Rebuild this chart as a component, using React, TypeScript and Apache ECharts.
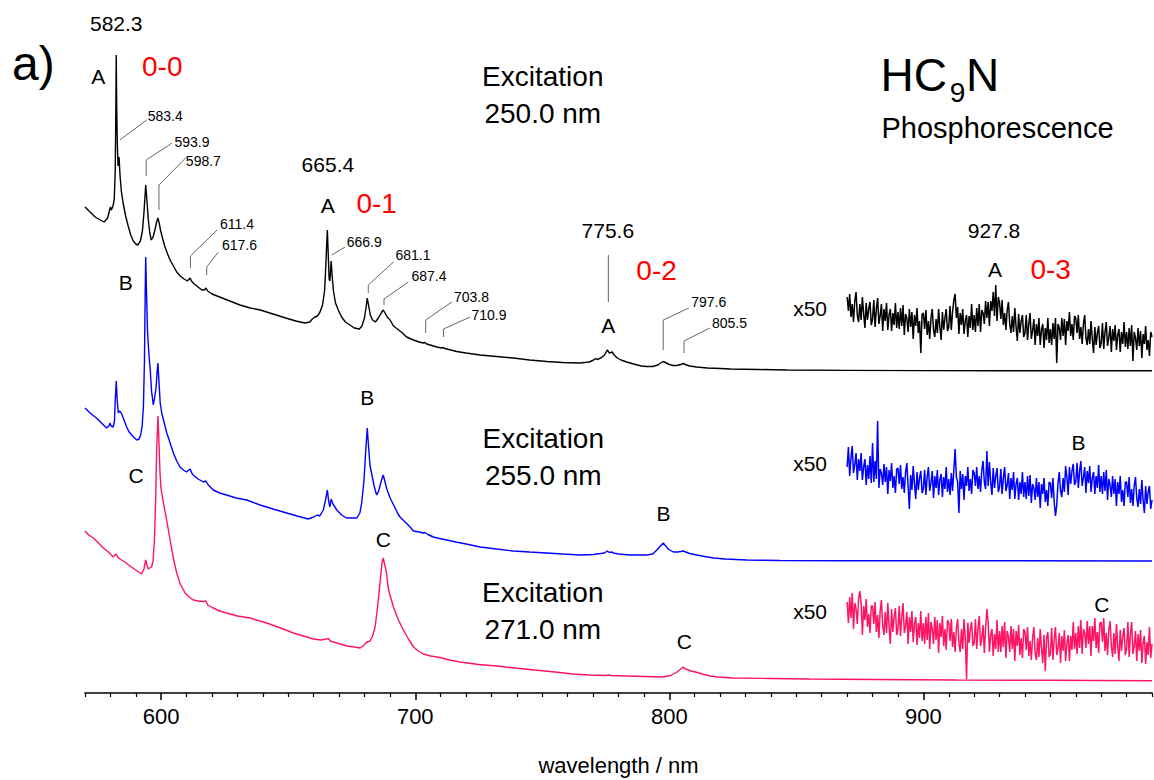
import React, { useEffect, useRef } from "react";
import * as echarts from "echarts";

const FONT = "'Liberation Sans', Arial, Helvetica, sans-serif";

// ---- axis ----
const X_MIN = 570;
const X_MAX = 990;
const MAJOR_TICKS = [600, 700, 800, 900];
const MINOR_TICKS = [570, 580, 590, 610, 620, 630, 640, 650, 660, 670, 680, 690, 710, 720, 730, 740, 750, 760, 770, 780, 790, 810, 820, 830, 840, 850, 860, 870, 880, 890, 910, 920, 930, 940, 950, 960, 970, 980, 990];

// ---- vertical offsets of the stacked spectra (arb. units) ----
const OFFSET_250 = 322;
const OFFSET_255 = 132;
const OFFSET_271 = 12;

// ---- spectrum, excitation 250.0 nm: [wavelength nm, intensity] ----
const EXC_250 = [
  [570.0, 164], [572.0, 159], [574.0, 154], [576.0, 151], [577.5, 149], [578.9, 153], [579.6, 160], [580.0, 164], [580.4, 161], [581.0, 165],
  [581.5, 171], [581.9, 200], [582.1, 250], [582.3, 316], [582.5, 260], [582.7, 230], [583.0, 205], [583.4, 214], [583.8, 195], [584.3, 180],
  [585.0, 168], [586.0, 155], [587.0, 145], [588.0, 136], [589.0, 130], [590.0, 127], [590.8, 126], [591.8, 130], [592.6, 140], [593.2, 158],
  [593.9, 186], [594.4, 170], [594.9, 152], [595.5, 138], [596.1, 131], [596.8, 134], [597.6, 142], [598.2, 149], [598.7, 153], [599.2, 148],
  [599.8, 140], [600.6, 132], [601.5, 124], [602.5, 117], [603.5, 111], [604.8, 105], [606.1, 99], [607.5, 95], [609.0, 92], [610.3, 90],
  [611.0, 92], [611.4, 93], [611.9, 90], [613.0, 87], [614.5, 84], [616.0, 81], [617.0, 81], [617.6, 83], [618.3, 80], [620.0, 77],
  [623.0, 74], [627.0, 70], [631.0, 66], [635.0, 63], [639.0, 61], [644.0, 57], [649.0, 53], [653.0, 50], [656.5, 48], [658.5, 49],
  [659.5, 52], [660.5, 54], [661.5, 55], [662.5, 59], [663.5, 66], [664.3, 80], [664.8, 105], [665.1, 125], [665.4, 141], [665.7, 120],
  [666.1, 92], [666.4, 90], [666.9, 110], [667.3, 95], [667.8, 80], [668.6, 68], [669.7, 61], [671.0, 54], [672.5, 49], [674.3, 46],
  [676.0, 43], [678.0, 42], [679.0, 45], [680.0, 53], [680.6, 63], [681.1, 73], [681.6, 66], [682.3, 56], [683.2, 51], [684.3, 49],
  [685.5, 53], [686.6, 58], [687.4, 61], [688.1, 58], [689.0, 54], [690.1, 51], [691.4, 45], [693.0, 42], [694.5, 39], [696.6, 34],
  [699.3, 31], [701.5, 29], [703.2, 28], [703.8, 28.5], [704.5, 27], [706.5, 25.5], [708.5, 24], [710.3, 23], [710.9, 23.5], [711.7, 22.5],
  [714.0, 21], [716.3, 19.5], [720.0, 18], [725.5, 16], [732.0, 14.5], [738.6, 13], [745.0, 11], [751.8, 9.5], [758.0, 8.5], [764.9, 8],
  [768.5, 9], [770.2, 11], [771.0, 12.5], [771.6, 11.5], [773.0, 13], [774.5, 16], [775.6, 21], [776.4, 18], [777.0, 18.5], [777.5, 19],
  [778.3, 16], [779.5, 13], [781.0, 11], [783.2, 9], [786.0, 7], [789.0, 5], [791.1, 4.5], [793.5, 4.5], [795.5, 6], [796.6, 8],
  [797.6, 9.5], [798.8, 8], [800.0, 6.5], [801.5, 5.5], [803.0, 5.5], [804.5, 6.5], [805.5, 7.5], [806.8, 6], [808.0, 5], [810.7, 4],
  [815.0, 3], [820.0, 2.5], [824.1, 2], [835.0, 1.5], [846.4, 1], [870.0, 0.6], [900.0, 0.4], [930.0, 0.3], [960.0, 0.2], [990.0, 0.2],
];

// ---- spectrum, excitation 255.0 nm ----
const EXC_255 = [
  [570.0, 153], [572.0, 148], [574.5, 143], [576.5, 138], [578.5, 133], [579.4, 135], [579.8, 138], [580.3, 135], [581.1, 134], [581.6, 140],
  [581.9, 160], [582.3, 180], [582.7, 160], [583.1, 148], [583.5, 150], [584.0, 149], [584.6, 146], [585.5, 140], [586.4, 134], [587.4, 129],
  [588.4, 126], [589.5, 123], [590.4, 121], [591.3, 122], [591.9, 126], [592.5, 135], [593.0, 155], [593.4, 200], [593.7, 270], [593.9, 304],
  [594.2, 270], [594.6, 230], [595.2, 205], [595.6, 194], [596.2, 170], [596.9, 156], [597.5, 165], [598.0, 174], [598.4, 190], [598.7, 198],
  [599.1, 180], [599.6, 158], [600.2, 148], [601.2, 138], [602.2, 128], [603.5, 118], [604.8, 108], [606.1, 100], [607.4, 94], [608.7, 91],
  [610.0, 89], [610.8, 91], [611.4, 92], [612.0, 88], [612.6, 86], [614.5, 82], [616.6, 79], [617.6, 80], [618.5, 76], [620.5, 71],
  [623.0, 68], [625.7, 66], [629.5, 63], [633.7, 61], [638.9, 56], [644.0, 52], [649.4, 48], [653.5, 45], [657.9, 42], [660.0, 44],
  [661.5, 46], [662.4, 45], [663.8, 51], [664.6, 60], [665.4, 71], [665.9, 60], [666.4, 54], [666.9, 62], [667.6, 57], [669.1, 51],
  [671.0, 46], [673.0, 43], [675.0, 43], [677.0, 43], [678.2, 48], [678.9, 58], [679.8, 80], [680.5, 110], [681.1, 133], [681.6, 115],
  [682.2, 95], [682.8, 88], [683.8, 75], [684.8, 66], [685.6, 70], [686.6, 80], [687.4, 86], [688.0, 80], [688.8, 72], [690.1, 63],
  [691.5, 56], [693.0, 48], [694.0, 44], [696.0, 39], [698.0, 34], [699.3, 30], [701.5, 29], [703.2, 28], [703.8, 28.5], [705.0, 26.5],
  [707.1, 24], [709.5, 22.5], [712.4, 21], [716.0, 19], [720.0, 17], [725.5, 14], [732.0, 12], [738.6, 10], [745.0, 9], [751.7, 8],
  [758.0, 7], [764.9, 6], [770.0, 6.5], [773.0, 7.5], [774.4, 8], [775.6, 10], [776.4, 8.5], [777.2, 9], [778.0, 8], [780.0, 7],
  [784.6, 6], [791.1, 6], [793.5, 7], [795.1, 11], [796.5, 15], [797.6, 18], [798.6, 15], [799.8, 11.5], [801.6, 9], [803.3, 9],
  [804.5, 9.5], [805.5, 10], [806.5, 9], [808.0, 7.5], [810.8, 6], [814.0, 4.5], [817.4, 3], [822.0, 2], [830.5, 1], [843.6, 0.5],
  [870.0, 0.3], [930.0, 0.2], [990.0, 0],
];

// ---- spectrum, excitation 271.0 nm ----
const EXC_271 = [
  [570.0, 150], [571.5, 146], [573.3, 143], [575.3, 138], [577.2, 133], [579.2, 129], [581.1, 124], [581.8, 126], [582.3, 127], [582.8, 124],
  [583.8, 122], [585.7, 119], [587.7, 115], [590.0, 111], [592.3, 107], [593.2, 112], [593.9, 121], [594.4, 116], [594.9, 112], [595.5, 113],
  [596.2, 114], [596.8, 120], [597.3, 140], [597.8, 180], [598.2, 230], [598.7, 265], [599.1, 240], [599.5, 210], [599.9, 193], [600.2, 188],
  [600.6, 182], [601.1, 175], [602.0, 163], [603.5, 141], [605.0, 120], [606.1, 108], [607.5, 97], [609.4, 88], [611.0, 84], [612.6, 81],
  [614.5, 80], [616.6, 79.5], [617.6, 80], [618.3, 76], [620.5, 73], [623.0, 70], [625.7, 68], [630.0, 65], [635.0, 63], [641.5, 58],
  [647.0, 53], [652.0, 48], [656.0, 45], [659.9, 42], [663.0, 41], [665.0, 42], [665.8, 42.5], [666.6, 40], [667.8, 39], [670.5, 37],
  [673.0, 35], [676.0, 34], [678.3, 33], [679.5, 35], [680.9, 39], [682.2, 40], [683.2, 45], [684.2, 54], [685.2, 75], [686.2, 100],
  [686.9, 118], [687.4, 123], [688.0, 116], [688.7, 108], [689.2, 96], [689.8, 88], [690.5, 82], [691.4, 74], [693.2, 62], [695.3, 51],
  [697.3, 42], [699.3, 34], [701.2, 30], [703.2, 27], [706.0, 25], [709.8, 23.5], [713.5, 21], [717.6, 19], [725.0, 16.5], [732.0, 15],
  [739.3, 13], [747.0, 11], [755.0, 9], [762.0, 7], [768.3, 6], [775.0, 5.5], [776.0, 6], [777.0, 5.5], [783.0, 5], [790.0, 4.5],
  [797.2, 4], [800.5, 5.5], [803.1, 9], [804.5, 12], [805.5, 14], [806.3, 12], [807.5, 11], [808.5, 10], [810.3, 9], [813.0, 7],
  [816.0, 5], [819.0, 4], [825.0, 3], [840.0, 2.5], [855.2, 2], [880.0, 1.5], [913.1, 1], [950.0, 0.7], [990.0, 0.3],
];

// ---- x50 traces, sampled every 0.5 nm from 870 nm ----
const NOISE_START = 870;
const NOISE_STEP = 0.5;

const X50_250 = [
  74, 60, 77, 54, 67, 49, 70, 79, 56, 49, 67, 51, 74, 57, 43, 68, 51, 62, 69, 46,
  52, 71, 44, 62, 73, 47, 55, 67, 40, 62, 50, 68, 41, 56, 62, 40, 58, 46, 68, 43,
  59, 42, 63, 45, 66, 36, 57, 53, 39, 62, 44, 59, 32, 56, 45, 63, 38, 50, 18, 57,
  58, 42, 61, 36, 50, 32, 53, 62, 41, 34, 52, 38, 62, 44, 31, 59, 41, 53, 62, 40,
  44, 65, 41, 59, 71, 77, 53, 64, 37, 58, 46, 62, 37, 50, 56, 34, 55, 43, 67, 41,
  56, 39, 63, 45, 67, 39, 61, 58, 47, 70, 53, 69, 45, 70, 60, 79, 55, 86, 50, 74,
  68, 52, 71, 46, 58, 41, 61, 69, 47, 38, 55, 39, 63, 44, 30, 57, 38, 50, 56, 34,
  38, 56, 31, 47, 58, 32, 40, 52, 26, 47, 35, 53, 26, 41, 47, 23, 43, 31, 53, 28,
  42, 26, 48, 32, 53, 8, 47, 43, 31, 53, 35, 52, 26, 50, 40, 59, 35, 47, 31, 55,
  53, 38, 56, 32, 44, 27, 47, 56, 33, 26, 42, 27, 50, 32, 18, 44, 26, 38, 45, 23,
  28, 48, 22, 39, 49, 25, 33, 45, 19, 42, 30, 46, 21, 36, 42, 19, 39, 27, 49, 24,
  39, 22, 43, 25, 46, 10, 39, 33, 21, 43, 25, 40, 13, 37, 27, 45, 21, 31, 15, 39,
  34,
];

const X50_255 = [
  94, 114, 85, 103, 115, 88, 96, 108, 81, 102, 90, 108, 81, 94, 102, 76, 96, 82, 105, 78,
  118, 79, 100, 82, 140, 73, 92, 88, 76, 97, 79, 94, 67, 91, 80, 98, 73, 85, 68, 92,
  93, 77, 96, 72, 84, 68, 89, 98, 75, 52, 86, 71, 95, 77, 62, 89, 71, 83, 90, 68,
  72, 91, 66, 84, 94, 70, 78, 90, 63, 85, 73, 91, 66, 81, 87, 64, 84, 72, 94, 69,
  82, 66, 88, 70, 91, 112, 84, 79, 48, 90, 72, 87, 61, 85, 75, 94, 70, 82, 67, 91,
  88, 75, 94, 72, 85, 69, 91, 100, 79, 72, 110, 75, 99, 79, 66, 93, 73, 85, 93, 69,
  74, 92, 67, 83, 94, 70, 76, 88, 62, 83, 71, 89, 62, 77, 83, 61, 79, 67, 89, 64,
  79, 62, 85, 65, 86, 58, 77, 73, 61, 83, 64, 79, 53, 77, 67, 83, 59, 71, 55, 79,
  78, 63, 83, 59, 45, 56, 78, 89, 70, 64, 83, 69, 95, 84, 66, 94, 77, 90, 97, 76,
  79, 98, 73, 90, 100, 75, 83, 94, 68, 90, 78, 95, 69, 83, 89, 67, 85, 73, 96, 69,
  85, 67, 89, 70, 91, 61, 82, 76, 64, 85, 67, 82, 55, 79, 67, 85, 59, 71, 55, 79,
  79, 64, 84, 58, 72, 55, 75, 84, 63, 54, 72, 57, 81, 61, 48, 75, 57, 69, 75, 52,
  61,
];

const X50_271 = [
  79, 58, 84, 63, 88, 52, 78, 72, 57, 82, 90, 78, 46, 75, 61, 82, 54, 67, 48, 75,
  75, 57, 79, 49, 66, 43, 70, 81, 55, 46, 69, 48, 78, 55, 37, 72, 49, 64, 73, 46,
  52, 75, 45, 64, 78, 48, 55, 69, 37, 64, 49, 70, 39, 57, 64, 36, 58, 43, 70, 40,
  58, 37, 64, 41, 68, 32, 59, 52, 37, 64, 41, 61, 28, 58, 44, 65, 35, 52, 31, 61,
  58, 40, 62, 34, 49, 29, 53, 62, 38, 29, 52, 32, 62, 43, 2, 58, 38, 52, 59, 35,
  38, 62, 32, 52, 65, 35, 43, 56, 28, 53, 72, 59, 29, 46, 52, 25, 47, 32, 61, 29,
  50, 29, 55, 34, 59, 23, 50, 44, 29, 55, 32, 52, 20, 50, 35, 56, 26, 43, 23, 52,
  49, 31, 54, 25, 40, 21, 43, 54, 28, 21, 43, 24, 52, 33, 18, 46, 10, 43, 49, 24,
  27, 53, 21, 42, 54, 26, 33, 48, 18, 45, 30, 51, 20, 38, 46, 20, 45, 31, 59, 32,
  48, 27, 55, 33, 61, 27, 52, 48, 33, 60, 37, 55, 25, 55, 40, 63, 33, 49, 28, 58,
  59, 39, 63, 30, 48, 26, 51, 60, 35, 24, 48, 27, 57, 35, 20, 51, 30, 45, 53, 26,
  32, 59, 24, 47, 59, 27, 35, 50, 20, 47, 30, 51, 18, 38, 45, 17, 39, 26, 54, 23,
  37,
];

// ---- annotation leader lines: [wavelength, height] ----
const LEADERS = [
  [[583.7, 553], [594.3, 573]],
  [[594.1, 517], [594.1, 533], [604.3, 550]],
  [[599.1, 483], [599.1, 508], [610.0, 536]],
  [[611.5, 425], [611.5, 437], [622.0, 463]],
  [[617.9, 418], [617.9, 426], [622.5, 441]],
  [[667.1, 438], [672.4, 446]],
  [[681.5, 400], [681.5, 408], [691.4, 431]],
  [[687.7, 388], [687.7, 394], [697.3, 411]],
  [[704.1, 360], [704.1, 373], [714.4, 391]],
  [[711.1, 356], [711.1, 364], [721.6, 376]],
  [[776.0, 391], [776.0, 438]],
  [[797.6, 343], [797.6, 373], [807.7, 385]],
  [[805.8, 340], [805.8, 352], [815.9, 365]],
];

// ---- text annotations: text, wavelength, height, size, red? ----
const LABELS: [string, number, number, number, boolean?][] = [
  ["582.3", 582.3, 669.5, 21],
  ["A", 575.2, 617, 21],
  ["0-0", 600.4, 627, 28, true],
  ["583.4", 601.6, 577, 14],
  ["593.9", 612.1, 551, 14],
  ["598.7", 616.6, 532, 14],
  ["611.4", 629.8, 469, 14],
  ["617.6", 630.8, 448, 14],
  ["665.4", 665.6, 528.5, 21],
  ["A", 665.6, 488, 21],
  ["0-1", 684.8, 490, 28, true],
  ["666.9", 679.9, 451, 14],
  ["681.1", 699.1, 438, 14],
  ["687.4", 705.4, 417, 14],
  ["703.8", 722.1, 396, 14],
  ["710.9", 729.0, 378, 14],
  ["775.6", 775.8, 463, 21],
  ["A", 776.0, 368, 21],
  ["0-2", 795.0, 423, 28, true],
  ["797.6", 815.5, 391, 14],
  ["805.5", 823.7, 370, 14],
  ["Excitation", 750.2, 617, 28],
  ["250.0 nm", 750.2, 580, 28],
  ["HC", 896.2, 618.5, 46],
  ["9", 913.5, 600.5, 28],
  ["N", 923.3, 618.5, 46],
  ["Phosphorescence", 929.2, 565, 29],
  ["927.8", 927.8, 463, 21],
  ["A", 928.2, 424, 21],
  ["0-3", 950.1, 424, 28, true],
  ["x50", 855.4, 385, 21],
  ["B", 586.0, 411, 21],
  ["B", 681.1, 296, 21],
  ["Excitation", 750.4, 255, 28],
  ["255.0 nm", 750.4, 218, 28],
  ["B", 797.7, 180, 21],
  ["x50", 855.4, 230, 21],
  ["B", 961.1, 251, 21],
  ["C", 590.1, 218, 21],
  ["C", 687.4, 154, 21],
  ["Excitation", 750.2, 101, 28],
  ["271.0 nm", 750.2, 64, 28],
  ["C", 805.9, 52, 21],
  ["x50", 855.4, 82, 21],
  ["C", 970.3, 89, 21],
];

const COLOR_250 = "#000000";
const COLOR_255 = "#0000ff";
const COLOR_271 = "#ff1464";

function shift(points: number[][], off: number) {
  return points.map(([x, v]) => [x, v + off]);
}
function trace(values: number[], off: number) {
  return values.map((v, i) => [NOISE_START + i * NOISE_STEP, v + off]);
}

export default function App() {
  const ref = useRef<HTMLDivElement>(null);
  useEffect(() => {
    if (!ref.current) return;
    const chart = echarts.init(ref.current, undefined, { renderer: "svg" });
    const lineBase = (name: string, data: number[][], color: string, width: number) => ({
      name,
      type: "line",
      data,
      symbol: "none",
      silent: true,
      lineStyle: { color, width, opacity: 1 },
      itemStyle: { color },
      z: 3,
    });
    const leaderSeries = LEADERS.map((pts, i) => ({
      name: "leader" + i,
      type: "line",
      data: pts,
      symbol: "none",
      silent: true,
      lineStyle: { color: "#666666", width: 1 },
      z: 2,
    }));
    const labelSeries = {
      name: "labels",
      type: "scatter",
      silent: true,
      symbol: "circle",
      symbolSize: 1,
      itemStyle: { color: "rgba(255,255,255,0)", opacity: 1 },
      clip: false,
      z: 5,
      label: { show: true, position: "inside", fontFamily: FONT, color: "#000", textBorderWidth: 0, opacity: 1 },
      data: LABELS.map(([t, x, y, s, red]) => ({
        value: [x, y],
        label: {
          show: true,
          position: "inside",
          formatter: t,
          fontSize: s,
          fontFamily: FONT,
          color: red ? "#ff0000" : "#000000",
          opacity: 1,
          textBorderWidth: 0,
          textBorderColor: "transparent",
          align: "center",
          verticalAlign: "middle",
        },
      })),
    };
    chart.setOption({
      animation: false,
      backgroundColor: "#ffffff",
      grid: { left: 85, right: 2, top: 13, bottom: 87, containLabel: false, outerBoundsMode: "none" },
      xAxis: [
        {
          type: "value",
          min: X_MIN,
          max: X_MAX,
          position: "bottom",
          name: "wavelength / nm",
          nameLocation: "middle",
          nameGap: 61,
          nameTextStyle: { fontSize: 22, fontFamily: FONT, color: "#000" },
          axisLine: { show: true, onZero: false, lineStyle: { color: "#000", width: 1.5 } },
          axisTick: { show: true, customValues: MAJOR_TICKS, length: 7, inside: false, lineStyle: { color: "#000", width: 1.5 } },
          axisLabel: { show: true, customValues: MAJOR_TICKS, fontSize: 22, margin: 12, color: "#000", fontFamily: FONT },
          splitLine: { show: false },
        },
        {
          type: "value",
          min: X_MIN,
          max: X_MAX,
          position: "bottom",
          axisLine: { show: false, onZero: false },
          axisTick: { show: true, customValues: MINOR_TICKS, length: 4, inside: false, lineStyle: { color: "#000", width: 1.2 } },
          axisLabel: { show: false },
          splitLine: { show: false },
        },
      ],
      yAxis: { type: "value", min: 0, max: 680, show: false },
      graphic: [
        {
          type: "text",
          x: 12,
          y: 63,
          style: {
            text: "a)",
            fontSize: 48,
            fontFamily: FONT,
            fill: "#000",
            verticalAlign: "middle",
            textVerticalAlign: "middle",
          },
        },
      ],
      series: [
        lineBase("Excitation 250.0 nm", shift(EXC_250, OFFSET_250), COLOR_250, 1.4),
        lineBase("Excitation 255.0 nm", shift(EXC_255, OFFSET_255), COLOR_255, 1.4),
        lineBase("Excitation 271.0 nm", shift(EXC_271, OFFSET_271), COLOR_271, 1.4),
        lineBase("x50 250.0 nm", trace(X50_250, OFFSET_250), COLOR_250, 1.5),
        lineBase("x50 255.0 nm", trace(X50_255, OFFSET_255), COLOR_255, 1.5),
        lineBase("x50 271.0 nm", trace(X50_271, OFFSET_271), COLOR_271, 1.5),
        ...leaderSeries,
        labelSeries,
      ],
    });
    return () => chart.dispose();
  }, []);
  return (
    <div
      ref={ref}
      style={{ position: "absolute", left: 0, top: 0, width: 1154, height: 780, background: "#fff" }}
    />
  );
}
